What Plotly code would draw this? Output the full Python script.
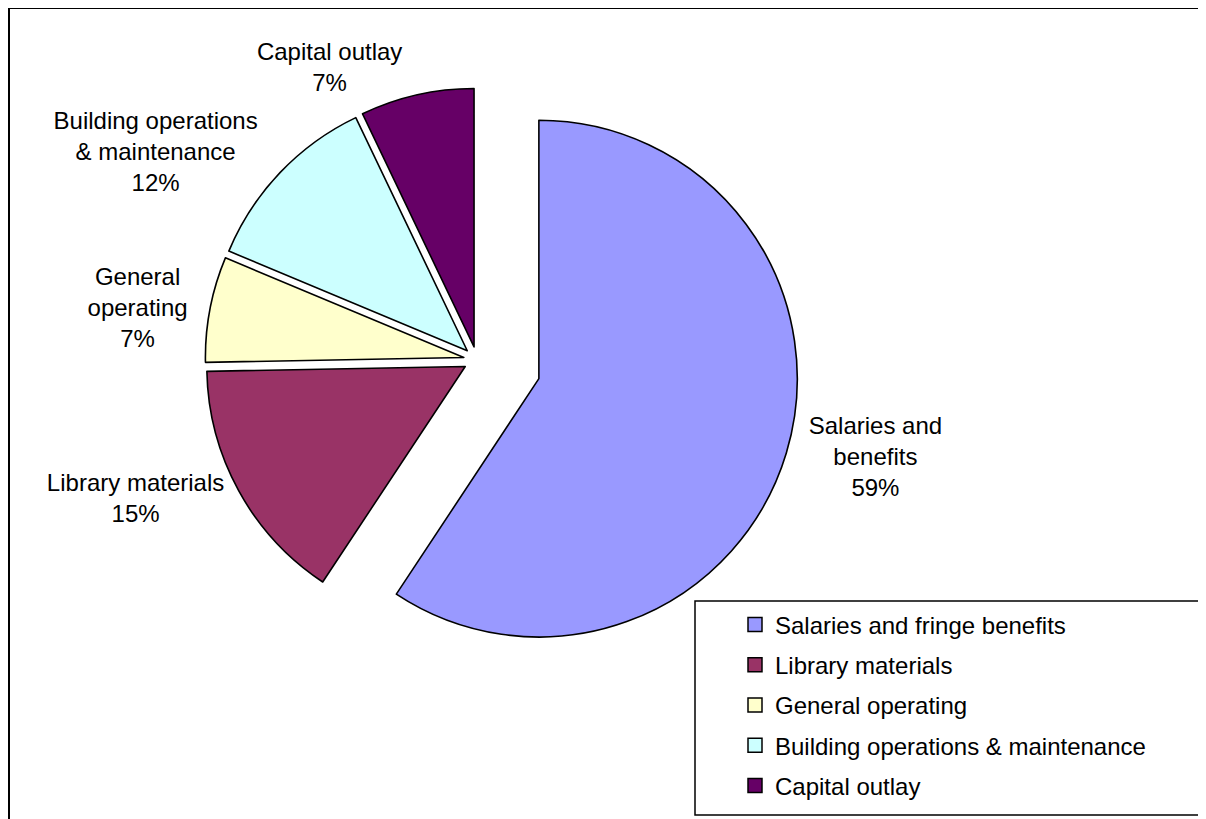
import plotly.graph_objects as go

# Data
legend_labels = ["Salaries and fringe benefits", "Library materials", "General operating",
                 "Building operations & maintenance", "Capital outlay"]
slice_labels = ["Salaries and<br>benefits", "Library materials", "General<br>operating",
                "Building operations<br>& maintenance", "Capital outlay"]
values = [59.3, 15.4, 6.6, 11.6, 7.1]
colors = ["#9999FF", "#993366", "#FFFFCC", "#CCFFFF", "#660066"]
pulls = [0.25, 0.052, 0.052, 0.052, 0.052]

W, H = 1206, 819
FONT = "Liberation Sans, Arial, sans-serif"

fig = go.Figure()
fig.add_trace(go.Pie(
    labels=legend_labels,
    values=values,
    text=slice_labels,
    texttemplate="%{text}<br>%{percent:.0%}",
    textposition="outside",
    textfont=dict(family=FONT, size=24, color="black"),
    marker=dict(colors=colors, line=dict(color="black", width=1.6)),
    pull=pulls,
    sort=False,
    direction="clockwise",
    rotation=0,
    showlegend=False,
    automargin=False,
    hoverinfo="label+percent",
    domain=dict(x=[0.1136, 0.6642], y=[0.1758, 0.9646]),
))

# legend entries (drawn by the library's legend)
for lab, col in zip(legend_labels, colors):
    fig.add_trace(go.Scatter(
        x=[None], y=[None], mode="markers", name=lab, legendgroup=lab,
        marker=dict(symbol="square", size=14, color=col, line=dict(color="black", width=1.5)),
        hoverinfo="skip",
    ))

def px_x(v):
    return v / W

def px_y(v):
    return 1 - v / H

shapes = [
    # outer chart border
    dict(type="rect", xref="paper", yref="paper",
         x0=px_x(1), x1=1, y0=0, y1=px_y(0),
         line=dict(color="black", width=2), fillcolor="rgba(0,0,0,0)", layer="below"),
    # legend box
    dict(type="rect", xref="paper", yref="paper",
         x0=px_x(687), x1=px_x(1192), y0=px_y(807), y1=px_y(593),
         line=dict(color="black", width=1.5), fillcolor="white", layer="above"),
]

fig.update_layout(
    width=W, height=H,
    margin=dict(l=0, r=0, t=0, b=0),
    paper_bgcolor="white", plot_bgcolor="rgba(0,0,0,0)",
    shapes=shapes,
    font=dict(family=FONT, color="black"),
    xaxis=dict(visible=False), yaxis=dict(visible=False),
    showlegend=True,
    legend=dict(x=px_x(727), y=px_y(594.5), xanchor="left", yanchor="top",
                bgcolor="rgba(0,0,0,0)", borderwidth=0,
                font=dict(family=FONT, size=24, color="black"),
                tracegroupgap=6, itemclick=False, itemdoubleclick=False),
)

fig.write_html("out.html")
